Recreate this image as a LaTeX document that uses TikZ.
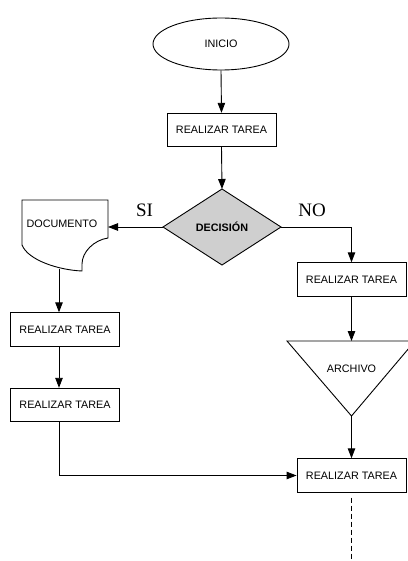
\documentclass[tikz,border=0pt]{standalone}
\usepackage{fontspec}
\setmainfont{Liberation Sans}
\newfontfamily\labfont{Liberation Serif}
\usetikzlibrary{shapes.geometric,arrows.meta}
\begin{document}
\begin{tikzpicture}[x=1pt,y=-1pt,
  line width=0.9pt,
  txt/.style={font=\fontsize{10.8}{13}\selectfont},
  task/.style={draw,rectangle,minimum width=109pt,minimum height=33.5pt,inner sep=0pt,txt},
  arr/.style={-{Triangle[length=10pt,width=7.5pt]}},
  lab/.style={font=\labfont\fontsize{19}{22}\selectfont,anchor=base}]
\useasboundingbox (0,0) rectangle (407,561);
% start
\node[draw,ellipse,minimum width=136pt,minimum height=52pt,inner sep=0pt,txt] (ini) at (221,44) {INICIO};
\node[task] (t1) at (221.5,130) {REALIZAR TAREA};
% decision
\coordinate (dtop) at (222,189);
\coordinate (dright) at (281,227);
\coordinate (dbot) at (222,265);
\coordinate (dleft) at (163,227);
\filldraw[fill=black!19] (dtop) -- (dright) -- (dbot) -- (dleft) -- cycle;
\node[txt,font=\fontsize{10.8}{13}\selectfont\bfseries] (dec) at (222,227) {DECISIÓN};
% document
\draw (22,200) -- (108,200) -- (108,238) .. controls (94,240) and (82,252) .. (82,264)
  -- (82,271) .. controls (58,270) and (28,260) .. (22,245) -- cycle;
\node[txt] (doc) at (62,224) {DOCUMENTO};
\coordinate (docr) at (108,227);
\coordinate (docb) at (59,269);
% left column
\node[task] (t2) at (65,329.5) {REALIZAR TAREA};
\node[task] (t3) at (65,405) {REALIZAR TAREA};
% right column
\node[task] (t5) at (351.5,279.5) {REALIZAR TAREA};
\draw (287,341) -- (415,341) -- (351.5,416) -- cycle;
\coordinate (trtop) at (351.5,341);
\coordinate (trbot) at (351.5,416);
\node[txt] (arch) at (351.5,369) {ARCHIVO};
\node[task] (t4) at (351.5,475.5) {REALIZAR TAREA};
% labels
\node[lab] (si) at (144.5,216) {SI};
\node[lab] (no) at (312,216) {NO};
% connectors
\draw[arr] (ini.south) -- (t1.north);
\draw[arr] (t1.south) -- (dtop);
\draw[arr] (dleft) -- (docr);
\draw[arr] (dright) -| (t5.north);
\draw[arr] (t5.south) -- (trtop);
\draw[arr] (trbot) -- (t4.north);
\draw[arr] (docb) -- (docb |- t2.north);
\draw[arr] (t2.south -| docb) -- (t3.north -| docb);
\draw[arr] (t3.south -| docb) |- (t4.west);
\coordinate (dashend) at (351.5,565);
\draw[dash pattern=on 5pt off 3pt] ([yshift=-5pt]t4.south) -- (dashend);
\end{tikzpicture}
\end{document}
